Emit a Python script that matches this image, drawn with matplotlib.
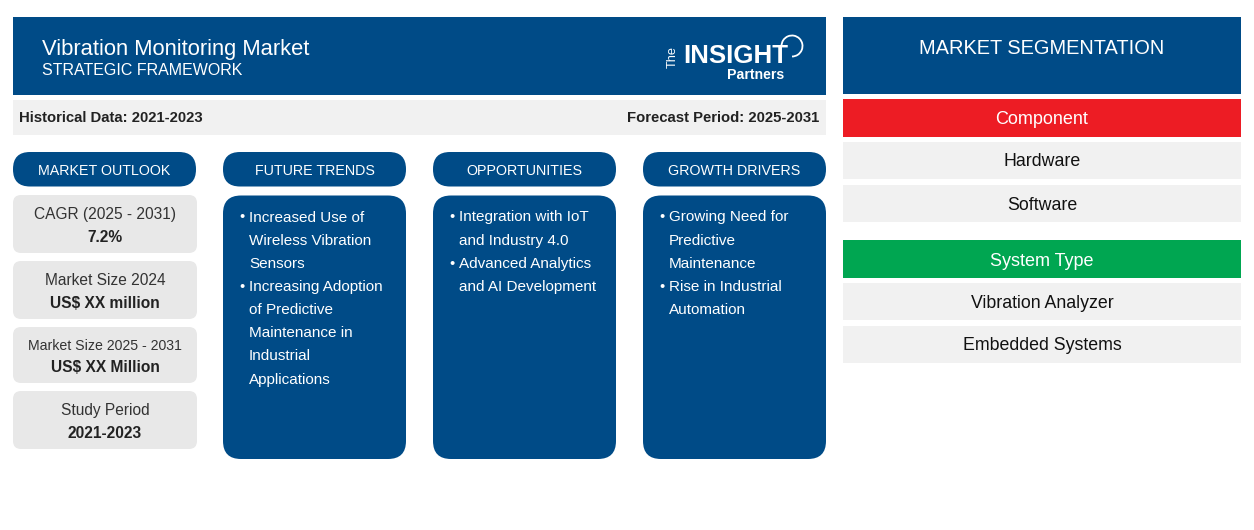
import matplotlib
matplotlib.use("Agg")
import matplotlib.pyplot as plt
from matplotlib.patches import Rectangle, FancyBboxPatch, Arc

plt.rcParams['font.family'] = ['Liberation Sans', 'DejaVu Sans']

BLUE = '#004b87'
RED = '#ed1c24'
GREEN = '#00a651'
LIGHT = '#f1f1f1'
CARD = '#e8e8e8'

title = "Vibration Monitoring Market"
subtitle = "STRATEGIC FRAMEWORK"
historical = "Historical Data: 2021-2023"
forecast = "Forecast Period: 2025-2031"
column_heads = ["MARKET OUTLOOK", "FUTURE TRENDS", "OPPORTUNITIES", "GROWTH DRIVERS"]
outlook_labels = ["CAGR (2025 - 2031)", "Market Size 2024", "Market Size 2025 - 2031", "Study Period"]
outlook_values = ["7.2%", "US$ XX million", "US$ XX Million", "2021-2023"]
trends = [["Increased Use of", "Wireless Vibration", "Sensors"],
          ["Increasing Adoption", "of Predictive", "Maintenance in", "Industrial", "Applications"]]
opportunities = [["Integration with IoT", "and Industry 4.0"],
                 ["Advanced Analytics", "and AI Development"]]
drivers = [["Growing Need for", "Predictive", "Maintenance"],
           ["Rise in Industrial", "Automation"]]
seg_title = "MARKET SEGMENTATION"
seg_groups = [("Component", ["Hardware", "Software"]),
              ("System Type", ["Vibration Analyzer", "Embedded Systems"])]

fig = plt.figure(figsize=(12.54, 5.30), dpi=100)
ax = fig.add_axes([0, 0, 1, 1])
ax.set_xlim(0, 1254)
ax.set_ylim(530, 0)
ax.axis('off')


def rect(x, y, w, h, color):
    ax.add_patch(Rectangle((x, y), w, h, facecolor=color, edgecolor='none'))


def rrect(x, y, w, h, r, color):
    ax.add_patch(FancyBboxPatch((x + r, y + r), w - 2 * r, h - 2 * r,
                                boxstyle=f"round,pad={r},rounding_size={r}",
                                facecolor=color, edgecolor='none'))


def txt(x, y, s, size, color='white', ha='center', weight='normal', **kw):
    ax.text(x, y + 1, s, fontsize=size, color=color, ha=ha, va='center', fontweight=weight, **kw)


# Header
rect(13, 17, 813, 78, BLUE)
txt(42, 48.5, title, 15.85, ha='left')
txt(42, 69.5, subtitle, 11.5, ha='left')

# Logo
txt(673, 55.5, "The", 9.2, rotation=90)
txt(683, 55, "INSIGHT", 18.6, ha='left', weight='bold')
txt(756, 74, "Partners", 10.2, weight='bold')
ax.add_patch(Arc((792, 46), 21, 21, theta1=180, theta2=450, color='white', lw=1.3))

# Period band
rect(13, 100, 813, 35, LIGHT)
txt(19, 117.5, historical, 10.7, color='#222222', ha='left', weight='bold')
txt(819, 117.5, forecast, 10.7, color='#222222', ha='right', weight='bold')

# Column heads
col_x = [13, 223, 433, 643]
col_w = 183
for x, head in zip(col_x, column_heads):
    rrect(x, 152, col_w, 34.5, 17, BLUE)
    txt(x + col_w / 2, 170, head, 10.3)

# Outlook cards
card_y = [195, 261, 327, 391]
card_h = [58, 58, 56, 58]
label_y = [213.5, 279.5, 345, 409.5]
value_y = [236.5, 302.5, 366.5, 432.5]
label_size = [11.2, 11.2, 10.2, 11.2]
for y, h, ly, vy, ls, lab, val in zip(card_y, card_h, label_y, value_y, label_size,
                                      outlook_labels, outlook_values):
    rrect(13, y, 184, h, 8, CARD)
    txt(105, ly, lab, ls, color='#333333')
    txt(105, vy, val, 11.2, color='#222222', weight='bold')

# Bullet columns
for x, groups in zip(col_x[1:], [trends, opportunities, drivers]):
    rrect(x, 195.5, col_w, 263.5, 18, BLUE)
    line = 0
    for group in groups:
        for j, s in enumerate(group):
            y = 216.5 + line * 23.15
            if j == 0:
                txt(x + 19.5, y, "\u2022", 10.6, ha='center')
            txt(x + 26, y, s, 11.0, ha='left')
            line += 1

# Segmentation
rect(843, 17, 398, 77, BLUE)
txt(1042, 47, seg_title, 14.4)
head_colors = [RED, GREEN]
ys = [99, 240]
for (name, items), c, y0 in zip(seg_groups, head_colors, ys):
    rect(843, y0, 398, 37.5, c)
    txt(1042, y0 + 20, name, 13)
    for k, it in enumerate(items):
        y = y0 + 43 + k * 43
        rect(843, y, 398, 37, LIGHT)
        txt(1042, y + 19, it, 12.8, color='#111111')

fig.savefig('out.png', dpi=100, facecolor='white')
